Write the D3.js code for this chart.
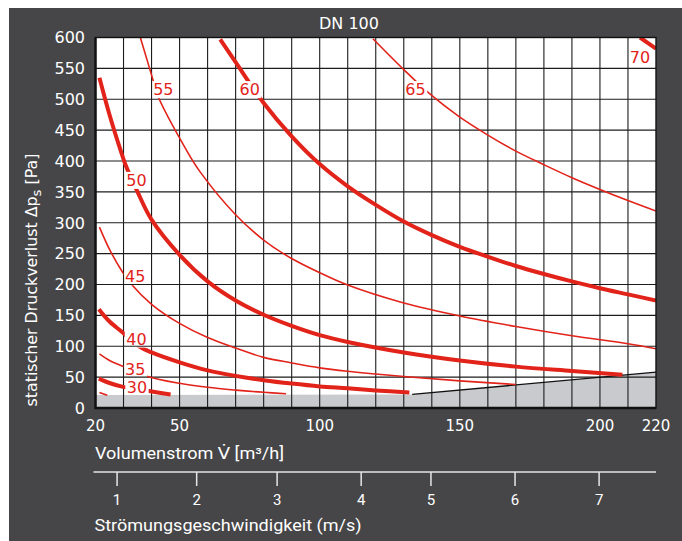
<!DOCTYPE html>
<html>
<head>
<meta charset="utf-8">
<script src="https://cdn.jsdelivr.net/npm/d3@7"></script>
<style>
  body { margin: 0; background: #fff; }
  svg { display: block; }
</style>
</head>
<body>
<svg width="682" height="541"></svg>
<script>
// axis ticks
const flowTicks = [20, 50, 100, 150, 200, 220];
const flowGrid = [30, 40, 50, 60, 70, 80, 90, 100, 110, 120, 130, 140, 150, 160, 170, 180, 190, 200, 210];
const pressureTicks = [0, 50, 100, 150, 200, 250, 300, 350, 400, 450, 500, 550, 600];
const speedTicks = [1, 2, 3, 4, 5, 6, 7];
const speedAtFlow = [27.7, 56.1, 84.8, 114.8, 139.7, 169.7, 199.7];

// lower limit of the usable range (grey zone), [m3/h, Pa]
const limitLine = [[20, 21], [133, 22], [220, 58]];

// sound level curves, [m3/h, Pa]
const level25 = [[21.4, 25], [24.2, 20.5]];
const level30 = [[21.2, 47.6], [25, 40.5], [29.5, 34.6], [34.8, 30.5], [39.6, 27], [46.8, 22]];
const level35 = [[21.4, 87.6], [25, 77], [29.5, 68], [37.9, 52], [50, 40], [60, 33.5], [70, 29], [80, 25.4], [88, 23]];
const level40 = [[21.2, 160], [25, 140], [29.5, 123], [35.5, 100], [40, 90], [50, 74], [60, 61], [70, 52],
  [80, 45], [90, 39.5], [100, 35], [110, 32], [120, 28.5], [132, 25]];
const level45 = [[21.4, 293], [25, 257], [29.5, 221], [32.5, 202], [40, 168], [50, 137], [60, 114], [70, 97],
  [80, 82], [90, 73], [100, 65], [110, 59.5], [130, 51], [150, 44], [170, 38]];
const level50 = [[21.4, 535], [25, 475], [28.9, 418], [30.7, 394], [35, 350], [40, 305], [50, 248], [60, 205],
  [70, 174], [80, 151], [90, 133], [100, 118], [110, 107], [130, 90], [150, 77], [170, 67], [190, 60], [208, 54]];
const level55 = [[36, 600], [40.6, 530], [42, 508], [52.4, 418], [57.4, 382], [70, 313], [80, 272], [90, 242],
  [100, 219], [110, 199], [130, 170], [150, 149], [170, 132], [190, 117], [210, 104], [220, 96]];
const level60 = [[64.5, 597], [70, 560], [80, 494], [90, 440], [100, 395], [110, 359], [120, 329],
  [130, 302], [140, 280], [150, 261], [160, 245], [170, 230], [180, 217], [190, 205], [200, 194],
  [210, 184], [220, 174]];
const level65 = [[119, 598], [130, 548], [139.2, 509], [150, 471], [160, 442], [170, 416], [180, 394],
  [190, 373], [200, 354], [210, 336], [220, 319]];
const level70 = [[214.3, 600], [220, 582]];

const levelNames = [25, 30, 35, 40, 45, 50, 55, 60, 65, 70];
const levelData = [level25, level30, level35, level40, level45, level50, level55, level60, level65, level70];

// where each curve carries its label, [m3/h, Pa]
const labelNames = [30, 35, 40, 45, 50, 55, 60, 65, 70];
const labelAt = [[34.8, 33], [34.2, 63], [34.6, 112], [34.2, 213], [34.6, 369], [44.2, 516], [75, 516],
  [134.2, 516], [214.3, 568.5]];

const svg = d3.select("svg");
const width = +svg.attr("width");
const height = +svg.attr("height");

const red = "#e2231a";
const tickFont = "'DejaVu Sans', sans-serif";
const labelFont = "Roboto, 'DejaVu Sans', sans-serif";

const x = d3.scaleLinear().domain([20, 220]).range([95.5, 656]);
const y = d3.scaleLinear().domain([0, 600]).range([408, 37.5]);

// dark panel
svg.append("rect")
  .attr("x", 9).attr("y", 8)
  .attr("width", width - 9).attr("height", height - 8)
  .attr("fill", "#464648");

const defs = svg.append("defs");
defs.append("clipPath").attr("id", "plotClip")
  .append("rect")
  .attr("x", x(20)).attr("y", y(600))
  .attr("width", x(220) - x(20)).attr("height", y(0) - y(600));

// plot background
svg.append("rect")
  .attr("x", x(20)).attr("y", y(600))
  .attr("width", x(220) - x(20)).attr("height", y(0) - y(600))
  .attr("fill", "#fff");

// grey zone
const area = d3.area().x((d) => x(d[0])).y0(y(0)).y1((d) => y(d[1]));
svg.append("path").datum(limitLine).attr("d", area).attr("fill", "#c9cacd");

// grid
const grid = svg.append("g").attr("stroke", "#1c1c1c").attr("stroke-width", 1.1);
grid.selectAll(".vgrid").data(flowGrid).enter().append("line")
  .attr("x1", (d) => x(d)).attr("x2", (d) => x(d))
  .attr("y1", y(0)).attr("y2", y(600));
grid.selectAll(".hgrid").data(pressureTicks.slice(1, -1)).enter().append("line")
  .attr("x1", x(20)).attr("x2", x(220))
  .attr("y1", (d) => y(d)).attr("y2", (d) => y(d));

// slanted limit edge
const line = d3.line().x((d) => x(d[0])).y((d) => y(d[1]));
svg.append("path").datum(limitLine.slice(1)).attr("d", line)
  .attr("fill", "none").attr("stroke", "#111").attr("stroke-width", 1.3);

// curve labels first, their boxes cut gaps into the curves
const labels = svg.append("g")
  .attr("font-family", tickFont).attr("font-size", 16).attr("fill", red)
  .attr("text-anchor", "middle");
labels.selectAll("text").data(labelNames).enter().append("text")
  .attr("x", (d, i) => x(labelAt[i][0]))
  .attr("y", (d, i) => y(labelAt[i][1]))
  .attr("dy", "0.36em")
  .text((d) => d);

const mask = defs.append("mask").attr("id", "labelGap")
  .attr("maskUnits", "userSpaceOnUse")
  .attr("x", 0).attr("y", 0).attr("width", width).attr("height", height);
mask.append("rect").attr("width", width).attr("height", height).attr("fill", "#fff");
labels.selectAll("text").each(function () {
  const b = this.getBBox();
  mask.append("rect")
    .attr("x", b.x - 1.5).attr("y", b.y + 1)
    .attr("width", b.width + 3).attr("height", b.height - 2)
    .attr("fill", "#000");
});

const curve = d3.line().x((d) => x(d[0])).y((d) => y(d[1])).curve(d3.curveCatmullRom.alpha(0.5));
svg.append("g").attr("clip-path", "url(#plotClip)")
  .append("g").attr("mask", "url(#labelGap)")
  .selectAll("path").data(levelData).enter().append("path")
  .attr("d", curve)
  .attr("fill", "none")
  .attr("stroke", red)
  .attr("stroke-linecap", "butt")
  .attr("stroke-width", (d, i) => (levelNames[i] % 10 === 0 ? 4 : 1.6));

labels.raise();

// frame
svg.append("rect")
  .attr("x", x(20)).attr("y", y(600))
  .attr("width", x(220) - x(20)).attr("height", y(0) - y(600))
  .attr("fill", "none").attr("stroke", "#111").attr("stroke-width", 1.4);
svg.append("path")
  .attr("d", `M${x(20)},${y(600)}V${y(0)}H${x(220)}`)
  .attr("fill", "none").attr("stroke", "#111").attr("stroke-width", 2.4);

// y tick labels
svg.append("g")
  .attr("font-family", tickFont).attr("font-size", 16).attr("fill", "#fff")
  .attr("text-anchor", "end")
  .selectAll("text").data(pressureTicks).enter().append("text")
  .attr("x", 85)
  .attr("y", (d) => y(d))
  .attr("dy", "0.36em")
  .text((d) => d);

// x tick labels
svg.append("g")
  .attr("font-family", tickFont).attr("font-size", 15).attr("fill", "#fff")
  .attr("text-anchor", "middle")
  .selectAll("text").data(flowTicks).enter().append("text")
  .attr("x", (d) => x(d))
  .attr("y", 431)
  .text((d) => d);

// y title
const yTitle = svg.append("text")
  .attr("transform", "translate(37,406.5) rotate(-90)")
  .attr("font-family", tickFont).attr("font-size", 15.5).attr("fill", "#fff")
  .attr("textLength", 253).attr("lengthAdjust", "spacingAndGlyphs");
yTitle.append("tspan").text("statischer Druckverlust \u0394p");
yTitle.append("tspan").attr("dy", 4).attr("font-size", 13).text("s");
yTitle.append("tspan").attr("dy", -4).text(" [Pa]");

// title
svg.append("text")
  .attr("x", 349).attr("y", 29)
  .attr("text-anchor", "middle")
  .attr("font-family", tickFont).attr("font-size", 16).attr("fill", "#fff")
  .text("DN 100");

// flow label
svg.append("text")
  .attr("x", 95).attr("y", 459)
  .attr("font-family", labelFont).attr("font-size", 16).attr("fill", "#fff")
  .attr("textLength", 189).attr("lengthAdjust", "spacingAndGlyphs")
  .text("Volumenstrom V\u0307 [m\u00b3/h]");

// velocity axis
const speedAxis = svg.append("g").attr("stroke", "#e6e6e6").attr("stroke-width", 1.5);
speedAxis.append("line").attr("x1", 93.5).attr("x2", x(220)).attr("y1", 472).attr("y2", 472);
speedAxis.selectAll(".tick").data(speedTicks).enter().append("line")
  .attr("x1", (d, i) => x(speedAtFlow[i])).attr("x2", (d, i) => x(speedAtFlow[i]))
  .attr("y1", 472).attr("y2", 486);

svg.append("g")
  .attr("font-family", labelFont).attr("font-size", 15).attr("fill", "#fff")
  .attr("text-anchor", "middle")
  .selectAll("text").data(speedTicks).enter().append("text")
  .attr("x", (d, i) => x(speedAtFlow[i]))
  .attr("y", 505)
  .text((d) => d);

svg.append("text")
  .attr("x", 94.5).attr("y", 531)
  .attr("font-family", labelFont).attr("font-size", 16).attr("fill", "#fff")
  .attr("textLength", 267).attr("lengthAdjust", "spacingAndGlyphs")
  .text("Str\u00f6mungsgeschwindigkeit (m/s)");
</script>
</body>
</html>
